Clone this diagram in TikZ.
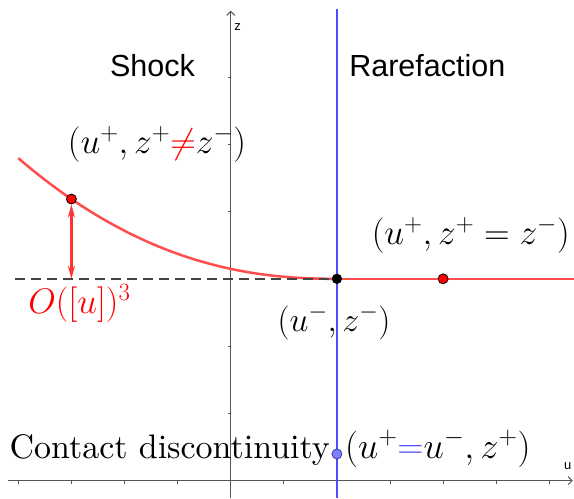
\RequirePackage{fix-cm}
\documentclass[tikz,border=0pt]{standalone}
\usepackage{fontspec}
\setmainfont{lmroman10-regular}[Extension=.otf]
\newfontfamily\labelsans{Liberation Sans}
\usetikzlibrary{arrows.meta}
\definecolor{curvered}{HTML}{FF4D4D}
\definecolor{arrred}{HTML}{FF3333}
\definecolor{lineblue}{HTML}{4D4DFF}
\definecolor{dotblue}{HTML}{7F7FFF}
\definecolor{axisgray}{HTML}{555555}
\definecolor{dashgray}{HTML}{444444}
\begin{document}
\begin{tikzpicture}[x=53.1pt,y=67.3pt,
  axisline/.style={axisgray,line width=1pt},
  tickline/.style={axisgray,line width=0.8pt},
  curveline/.style={curvered,line width=2.5pt},
  dashline/.style={dashgray,line width=2.5pt,dash pattern=on 10pt off 6pt},
  blueline/.style={lineblue,line width=2.5pt},
  dot/.style={circle,inner sep=0pt,minimum size=10pt,line width=0.8pt},
  mathlabel/.style={inner sep=0pt,anchor=base,font=\fontsize{35.5}{42}\selectfont},
  titlelabel/.style={inner sep=0pt,anchor=base,font=\fontsize{30.5}{36}\labelsans},
  axislabel/.style={inner sep=0pt,font=\fontsize{13}{15}\labelsans}]
\useasboundingbox (-4.345,-0.257) rectangle (6.465,7.143);
% axes
\coordinate (xs) at (-4.194,0);
\coordinate (xe) at (6.441,0);
\coordinate (zs) at (0,-0.257);
\coordinate (ze) at (0,6.984);
\draw[axisline,-{Straight Barb[length=4pt,width=8pt]}] (xs) -- (xe);
\draw[axisline,-{Straight Barb[length=4pt,width=8pt]}] (zs) -- (ze);
\foreach \i in {-4,-3,-2,-1,1,2,3,4,5,6}{
  \draw[tickline] (\i,0) -- (\i,-0.045);
}
\foreach \j in {1,2,3,4,5,6}{
  \draw[tickline] (0,\j) -- (-0.05,\j);
}
\node[axislabel] (ulab) at (6.347,0.218) {u};
\node[axislabel] (zlab) at (0.132,6.746) {z};
% blue contact line
\coordinate (bt) at (2,7.004);
\coordinate (bb) at (2,-0.257);
\draw[blueline] (bt) -- (bb);
% red curve and right branch
\draw[curveline] plot[domain=-4:2,samples=80,smooth] (\x,{3+0.0307*(max(2-\x,0.0001))^2.27});
\coordinate (re) at (6.465,3);
\coordinate (de) at (-4.062,3);
\node[dot,fill=black] (P) at (2,3) {};
\draw[curveline] (P) -- (re);
\draw[dashline] (de) -- (P.center);
\node[dot,fill=black] (P2) at (2,3) {};
% dots
\node[dot,fill=red,draw=black] (R) at (4,3) {};
\node[dot,fill=red,draw=black] (Q) at (-3,4.185) {};
\coordinate (Qb) at (-3,3);
\draw[arrred,line width=2.2pt,{Stealth[length=13pt,width=7pt]}-{Stealth[length=13pt,width=7pt]}] (Q.south) -- (Qb);
\node[dot,fill=dotblue,draw=lineblue!70!black] (B) at (2,0.397) {};
% titles
\node[titlelabel] (shock) at (-1.473,6.013) {Shock};
\node[titlelabel] (rare) at (3.703,6.013) {Rarefaction};
% math labels
\node[mathlabel] (l1) at (-1.388,4.865) {$(u^+,z^+\textcolor{red}{\neq}z^-)$};
\node[mathlabel,text=red] (l2) at (-2.85,2.487) {$O([u])^3$};
\node[mathlabel] (l3) at (4.52,3.517) {$(u^+,z^+=z^-)$};
\node[mathlabel,font=\fontsize{34}{40}\selectfont] (l4) at (1.945,2.224) {$(u^-,z^-)$};
\node[mathlabel,anchor=base east,font=\fontsize{34}{40}\selectfont] (l5) at (1.872,0.337) {Contact discontinuity};
\node[mathlabel,anchor=base west,font=\fontsize{36.5}{42}\selectfont] (l6) at (2.153,0.337) {$(u^+\textcolor{lineblue}{=}u^-,z^+)$};
\end{tikzpicture}
\end{document}
